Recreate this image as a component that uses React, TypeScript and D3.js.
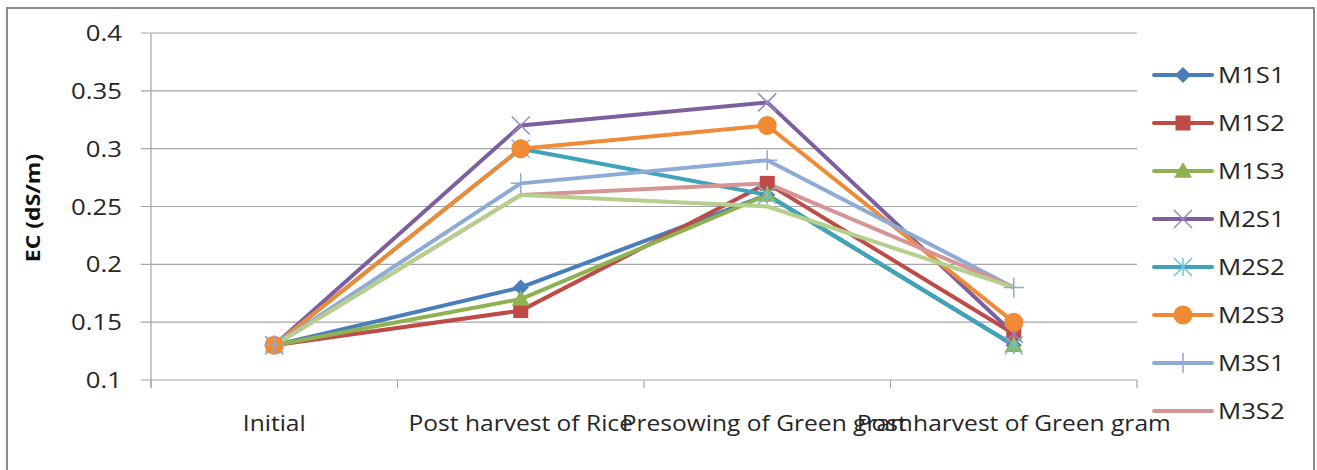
import React from "react";
import * as d3 from "d3";

const categories = ["Initial", "Post harvest of Rice", "Presowing of Green gram", "Post harvest of Green gram"];
const seriesNames = ["M1S1", "M1S2", "M1S3", "M2S1", "M2S2", "M2S3", "M3S1", "M3S2", "M3S3"];
const M1S1 = [0.13, 0.18, 0.26, 0.13];
const M1S2 = [0.13, 0.16, 0.27, 0.14];
const M1S3 = [0.13, 0.17, 0.26, 0.13];
const M2S1 = [0.13, 0.32, 0.34, 0.14];
const M2S2 = [0.13, 0.30, 0.26, 0.13];
const M2S3 = [0.13, 0.30, 0.32, 0.15];
const M3S1 = [0.13, 0.27, 0.29, 0.18];
const M3S2 = [0.13, 0.26, 0.27, 0.18];
const M3S3 = [0.13, 0.26, 0.25, 0.18];
const yTicks = [0.1, 0.15, 0.2, 0.25, 0.3, 0.35, 0.4];
const legendNames = ["M1S1", "M1S2", "M1S3", "M2S1", "M2S2", "M2S3", "M3S1", "M3S2"];

const values = [M1S1, M1S2, M1S3, M2S1, M2S2, M2S3, M3S1, M3S2, M3S3];
const colors = ["#4A7EBB", "#BE4B48", "#8FB250", "#7D5FA0", "#3FA3BD", "#F08A35", "#8EAAD6", "#D69595", "#B5CF8D"];
const markers = ["diamond", "square", "triangle", "x", "star", "circle", "plus", "none", "none"];
const markerColors = ["#4A7EBB", "#BE4B48", "#8FB250", "#9C88C0", "#6CC1D6", "#F08A35", "#8EAAD6", "none", "none"];

const FONT = "'Open Sans', sans-serif";
const SX = 1.17;

function Marker({ type, x, y, color }: { type: string; x: number; y: number; color: string }) {
  if (type === "diamond") {
    const s = 8;
    return <path d={`M${x},${y - s}L${x + s},${y}L${x},${y + s}L${x - s},${y}Z`} fill={color} />;
  }
  if (type === "square") {
    const s = 7.5;
    return <rect x={x - s} y={y - s} width={2 * s} height={2 * s} fill={color} />;
  }
  if (type === "triangle") {
    const s = 9;
    return <path d={`M${x},${y - s}L${x + s},${y + s * 0.75}L${x - s},${y + s * 0.75}Z`} fill={color} />;
  }
  if (type === "circle") {
    return <circle cx={x} cy={y} r={9.5} fill={color} />;
  }
  if (type === "x") {
    const s = 9;
    return (
      <path d={`M${x - s},${y - s}L${x + s},${y + s}M${x - s},${y + s}L${x + s},${y - s}`} stroke={color} strokeWidth={1.5} fill="none" />
    );
  }
  if (type === "star") {
    const s = 9;
    return (
      <path
        d={`M${x - s},${y - s}L${x + s},${y + s}M${x - s},${y + s}L${x + s},${y - s}M${x},${y - s}L${x},${y + s}`}
        stroke={color}
        strokeWidth={1.5}
        fill="none"
      />
    );
  }
  if (type === "plus") {
    const s = 10;
    return <path d={`M${x - s},${y}L${x + s},${y}M${x},${y - s}L${x},${y + s}`} stroke={color} strokeWidth={1.5} fill="none" />;
  }
  return null;
}

function SText({ x, y, anchor, size, children }: { x: number; y: number; anchor: string; size: number; children: React.ReactNode }) {
  return (
    <text transform={`translate(${x},${y}) scale(${SX},1)`} textAnchor={anchor} fontSize={size} fill="#262626">
      {children}
    </text>
  );
}

export default function App() {
  const W = 1317;
  const H = 470;
  const left = 151;
  const right = 1137;
  const top = 33;
  const bottom = 380;

  const x = d3.scaleBand<string>().domain(categories).range([left, right]).padding(0);
  const y = d3.scaleLinear().domain([0.1, 0.4]).range([bottom, top]);
  const cx = (c: string) => (x(c) as number) + x.bandwidth() / 2;

  const line = d3
    .line<number>()
    .x((_, i) => cx(categories[i]))
    .y((d) => y(d));

  const tickEdges = categories.map((c) => x(c) as number).concat([right]);

  return (
    <svg width={W} height={H} style={{ position: "absolute", left: 0, top: 0, background: "#fff" }} fontFamily={FONT}>
      <rect x={0} y={0} width={W} height={H} fill="#fff" />
      <rect x={7} y={8} width={1307} height={480} fill="none" stroke="#8c8c8c" strokeWidth={2} />

      {yTicks.map((t) => (
        <line key={"g" + t} x1={left - 10} x2={right} y1={y(t)} y2={y(t)} stroke="#a6a6a6" strokeWidth={1.2} />
      ))}
      <line x1={left} x2={left} y1={top} y2={bottom + 8} stroke="#a6a6a6" strokeWidth={1.2} />
      {tickEdges.map((e, i) => (
        <line key={"t" + i} x1={e} x2={e} y1={bottom} y2={bottom + 8} stroke="#a6a6a6" strokeWidth={1.2} />
      ))}

      {yTicks.map((t) => (
        <SText key={"l" + t} x={122} y={y(t) + 8} anchor="end" size={22}>
          {d3.format("")(+t.toFixed(2))}
        </SText>
      ))}

      {categories.map((c) => (
        <SText key={c} x={cx(c)} y={431} anchor="middle" size={21}>
          {c}
        </SText>
      ))}

      <text
        transform={`translate(40,${208}) rotate(-90) scale(1.15,1)`}
        textAnchor="middle"
        fontSize={20}
        fontWeight="bold"
        fill="#111"
      >
        EC (dS/m)
      </text>

      {values.map((v, i) => (
        <path key={"p" + i} d={line(v) as string} fill="none" stroke={colors[i]} strokeWidth={4} strokeLinejoin="round" />
      ))}
      {values.map((v, i) =>
        v.map((d, j) => (
          <Marker key={"m" + i + "-" + j} type={markers[i]} x={cx(categories[j])} y={y(d)} color={markerColors[i]} />
        ))
      )}

      {legendNames.map((n, i) => {
        const idx = seriesNames.indexOf(n);
        const ly = 75 + i * 48.0;
        return (
          <g key={"lg" + n}>
            <line x1={1154} x2={1212} y1={ly} y2={ly} stroke={colors[idx]} strokeWidth={4} strokeLinecap="round" />
            <Marker type={markers[idx]} x={1183} y={ly} color={markerColors[idx]} />
            <SText x={1218} y={ly + 8} anchor="start" size={22}>
              {n}
            </SText>
          </g>
        );
      })}
    </svg>
  );
}
